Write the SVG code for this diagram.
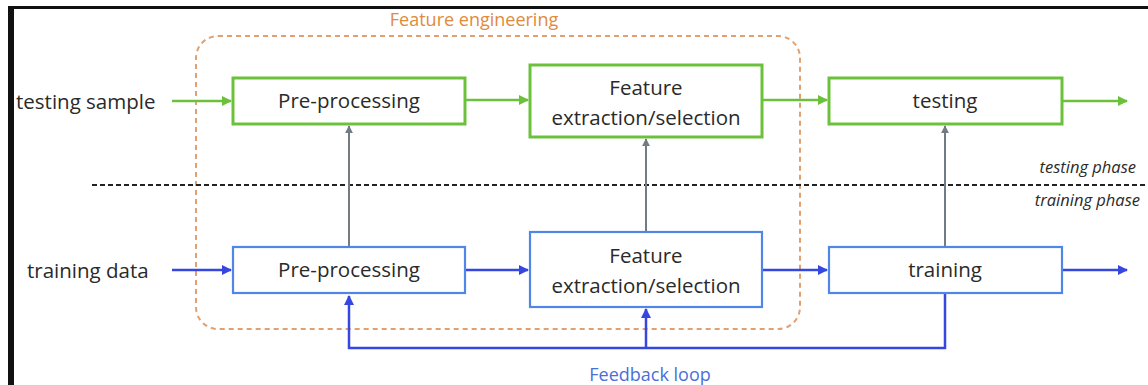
<svg xmlns="http://www.w3.org/2000/svg" width="1148" height="385" viewBox="0 0 1148 385">
<defs>
<style>
.t{font-family:"Open Sans","Liberation Sans",sans-serif;font-size:20.5px;fill:#2a2a2a;text-anchor:middle}
.lbl{font-family:"Open Sans","Liberation Sans",sans-serif;font-size:20.5px;fill:#2a2a2a}
.ph{font-family:"Open Sans","Liberation Sans",sans-serif;font-size:16.5px;font-style:italic;fill:#2a2a2a;text-anchor:end}
.gbox{fill:#fff;stroke:#6cc13c;stroke-width:3}
.bbox{fill:#fff;stroke:#4f86e8;stroke-width:2.2}
.g{stroke:#6cc13c;stroke-width:2.5;fill:none}
.b{stroke:#3547e0;stroke-width:2.5;fill:none}
.gr{stroke:#727c84;stroke-width:2;fill:none}
</style>
<marker id="ag" viewBox="0 0 10 10" refX="9" refY="5" markerWidth="4" markerHeight="4" orient="auto"><path d="M0,0L10,5L0,10z" fill="#6cc13c"/></marker>
<marker id="ab" viewBox="0 0 10 10" refX="9" refY="5" markerWidth="4" markerHeight="4" orient="auto"><path d="M0,0L10,5L0,10z" fill="#3547e0"/></marker>
<marker id="agr" viewBox="0 0 10 10" refX="9" refY="5" markerWidth="4" markerHeight="4" orient="auto"><path d="M0,0L10,5L0,10z" fill="#727c84"/></marker>
</defs>
<rect x="0" y="0" width="1148" height="385" fill="#fff"/>
<rect x="8" y="6" width="1140" height="3" fill="#111"/>
<rect x="8" y="6" width="6" height="379" fill="#111"/>

<g id="feature-engineering">
<rect x="196" y="36" width="604" height="293" rx="22" fill="none" stroke="#e0a070" stroke-width="2" stroke-dasharray="5,4"/>
<text x="474" y="26" font-family="Open Sans, Liberation Sans, sans-serif" font-size="18" fill="#e08a3c" text-anchor="middle">Feature engineering</text>
</g>

<g id="phase-divider">
<line x1="92" y1="185" x2="1148" y2="185" stroke="#222" stroke-width="2" stroke-dasharray="5,3"/>
<text class="ph" x="1136" y="173">testing phase</text>
<text class="ph" x="1140" y="206">training phase</text>
</g>

<g id="testing-sample"><text class="lbl" x="16" y="109">testing sample</text></g>
<g id="training-data"><text class="lbl" x="27" y="278">training data</text></g>

<g id="connectors">
<line class="g" x1="172" y1="101" x2="231" y2="101" marker-end="url(#ag)"/>
<line class="g" x1="466" y1="100" x2="528" y2="100" marker-end="url(#ag)"/>
<line class="g" x1="763" y1="100" x2="827" y2="100" marker-end="url(#ag)"/>
<line class="g" x1="1063" y1="101" x2="1127" y2="101" marker-end="url(#ag)"/>
<line class="b" x1="172" y1="270" x2="231" y2="270" marker-end="url(#ab)"/>
<line class="b" x1="466" y1="270" x2="528" y2="270" marker-end="url(#ab)"/>
<line class="b" x1="763" y1="270" x2="827" y2="270" marker-end="url(#ab)"/>
<line class="b" x1="1063" y1="270" x2="1127" y2="270" marker-end="url(#ab)"/>
<line class="gr" x1="349" y1="246" x2="349" y2="126" marker-end="url(#agr)"/>
<line class="gr" x1="646" y1="231" x2="646" y2="139" marker-end="url(#agr)"/>
<line class="gr" x1="945" y1="246" x2="945" y2="126" marker-end="url(#agr)"/>
<polyline class="b" points="945,294 945,348 349,348 349,296" marker-end="url(#ab)"/>
<line class="b" x1="646" y1="348" x2="646" y2="309" marker-end="url(#ab)"/>
<text x="650" y="381" font-family="Open Sans, Liberation Sans, sans-serif" font-size="18" fill="#4a6fd8" text-anchor="middle">Feedback loop</text>
</g>

<g id="test-preprocessing"><rect class="gbox" x="233" y="78" width="232" height="46"/><text class="t" x="349" y="108">Pre-processing</text></g>
<g id="test-feature"><rect class="gbox" x="530" y="65" width="232" height="72"/><text class="t" x="646" y="95">Feature</text><text class="t" x="646" y="125">extraction/selection</text></g>
<g id="testing"><rect class="gbox" x="829" y="78" width="233" height="46"/><text class="t" x="945" y="108">testing</text></g>

<g id="train-preprocessing"><rect class="bbox" x="233" y="247" width="232" height="46"/><text class="t" x="349" y="277">Pre-processing</text></g>
<g id="train-feature"><rect class="bbox" x="530" y="232" width="232" height="75"/><text class="t" x="646" y="263">Feature</text><text class="t" x="646" y="293">extraction/selection</text></g>
<g id="training"><rect class="bbox" x="829" y="247" width="233" height="46"/><text class="t" x="945" y="277">training</text></g>
</svg>
